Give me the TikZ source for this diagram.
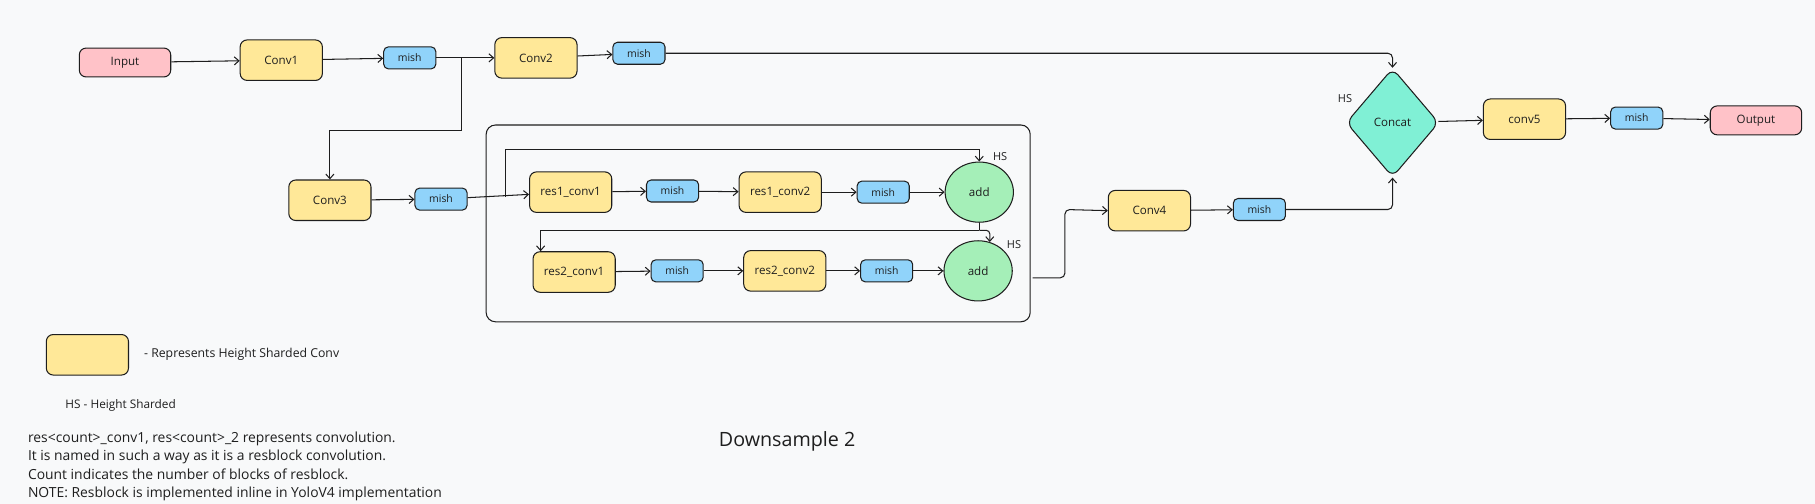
\documentclass[tikz,border=0pt]{standalone}
\usepackage{fontspec}
\setmainfont{Open Sans}
\usetikzlibrary{calc,arrows.meta,shapes.geometric}
\definecolor{ink}{HTML}{1E1E1E}
\definecolor{paper}{HTML}{F8F9FA}
\definecolor{convfill}{HTML}{FFE898}
\definecolor{mishfill}{HTML}{90D3FA}
\definecolor{iofill}{HTML}{FFC2C8}
\definecolor{addfill}{HTML}{A5EFB8}
\definecolor{catfill}{HTML}{80F0D5}
\tikzset{
	blockbox/.style={draw=ink, line width=0.9pt, rounded corners=6pt, inner sep=0pt, text=ink, font=\fontsize{10}{12}\selectfont},
	convbox/.style={blockbox, fill=convfill, minimum width=71pt, minimum height=35pt},
	mishbox/.style={blockbox, fill=mishfill, rounded corners=4pt, minimum width=45pt, minimum height=19pt, font=\fontsize{9}{11}\selectfont},
	iobox/.style={blockbox, fill=iofill, minimum width=79pt, minimum height=25pt},
	addop/.style={ellipse, draw=ink, line width=0.9pt, fill=addfill, minimum width=59pt, minimum height=52pt, inner sep=0pt, text=ink, font=\fontsize{10}{12}\selectfont},
	catop/.style={diamond, draw=ink, line width=0.9pt, fill=catfill, rounded corners=7pt, minimum width=80pt, minimum height=94pt, inner sep=0pt, text=ink, font=\fontsize{10}{12}\selectfont},
	wire/.style={draw=ink, line width=0.9pt, -{Straight Barb[length=4pt,width=7pt]}},
	hslabel/.style={text=ink, font=\fontsize{9.5}{11}\selectfont},
}

\begin{document}
\begin{tikzpicture}[x=1pt, y=-1pt]
		%%%%% START %%%%%
		\fill[paper] (0, 0) rectangle (1568, 435);
		\useasboundingbox (0, 0) rectangle (1568, 435);
		
		% resblock frame
		\node[draw=ink, line width=0.9pt, rounded corners=8pt, minimum width=470pt, minimum height=170pt, inner sep=0pt] (resblk) at (655, 193) {};
		
		% top row
		\node[iobox] (in) at (108, 54) {Input};
		\node[convbox] (conv1) at (243, 52) {Conv1};
		\node[mishbox] (mish1) at (354, 50) {mish};
		\node[convbox] (conv2) at (463, 50) {Conv2};
		\node[mishbox] (mish2) at (552, 46) {mish};
		
		% second row
		\node[convbox] (conv3) at (285, 173) {Conv3};
		\node[mishbox] (mish3) at (381, 172) {mish};
		\node[convbox] (r1c1) at (493, 166) {res1\_conv1};
		\node[mishbox] (mish4) at (581, 165) {mish};
		\node[convbox] (r1c2) at (674, 166) {res1\_conv2};
		\node[mishbox] (mish5) at (763, 166) {mish};
		\node[addop] (add1) at (846, 166) {add};
		\node[hslabel] at (864, 135) {HS};
		
		\node[convbox] (r2c1) at (496, 235) {res2\_conv1};
		\node[mishbox] (mish6) at (585, 234) {mish};
		\node[convbox] (r2c2) at (678, 234) {res2\_conv2};
		\node[mishbox] (mish7) at (766, 234) {mish};
		\node[addop] (add2) at (845, 234) {add};
		\node[hslabel] at (876, 211) {HS};
		
		\node[convbox] (conv4) at (993, 182) {Conv4};
		\node[mishbox] (mish8) at (1088, 181) {mish};
		
		% right side
		\node[catop] (cat) at (1203, 106) {Concat};
		\node[hslabel] at (1162, 85) {HS};
		\node[convbox] (conv5) at (1317, 103) {conv5};
		\node[mishbox] (mish9) at (1414, 102) {mish};
		\node[iobox] (out) at (1517, 104) {Output};
		
		% branch points
		\coordinate (b1) at (399, 50);
		\coordinate (b2) at (399, 113);
		\coordinate (s1) at (437, 170);
		\coordinate (s2) at (437, 129);
		\coordinate (j1) at (846, 199);
		\coordinate (o1) at (892, 240);
		\coordinate (o2) at (920, 181);
		
		% connectors
		\draw[wire] (in) -- (conv1);
		\draw[wire] (conv1) -- (mish1);
		\draw[wire] (mish1) -- (conv2);
		\draw[wire] (conv2) -- (mish2);
		\draw[wire, rounded corners=4pt] (mish2.east) -| (cat.north);
		\draw[wire] (b1) -- (b2) -| (conv3.north);
		
		\draw[wire] (conv3) -- (mish3);
		\draw[wire] (mish3) -- (r1c1);
		\draw[wire] (s1) -- (s2) -| (add1.north);
		\draw[wire] (r1c1) -- (mish4);
		\draw[wire] (mish4) -- (r1c2);
		\draw[wire] (r1c2) -- (mish5);
		\draw[wire] (mish5) -- (add1);
		
		\draw[line width=0.9pt, draw=ink] (add1.south) -- (j1);
		\draw[wire] (j1) -| ($(r2c1.north west)+(7, 0)$);
		\draw[wire, rounded corners=3pt] (j1) -| (add2.68);
		\draw[wire] (r2c1) -- (mish6);
		\draw[wire] (mish6) -- (r2c2);
		\draw[wire] (r2c2) -- (mish7);
		\draw[wire] (mish7) -- (add2);
		
		\draw[wire, rounded corners=4pt] (o1) -| (o2) -- (conv4.west);
		\draw[wire] (conv4) -- (mish8);
		\draw[wire, rounded corners=4pt] (mish8.east) -| (cat.south);
		\draw[wire] (cat) -- (conv5);
		\draw[wire] (conv5) -- (mish9);
		\draw[wire] (mish9) -- (out);
		
		% legend and notes
		\node[convbox] (legconv) at (75.5, 306.5) {};
		\node[anchor=west, text=ink, font=\fontsize{10.6}{12}\selectfont] (legtext) at (121, 306) {- Represents Height Sharded Conv};
		\node[anchor=west, text=ink, font=\fontsize{10.2}{12}\selectfont] (hsnote) at (53, 350) {HS - Height Sharded};
		\node[anchor=north west, align=left, inner sep=0pt, text=ink, font=\fontsize{12}{15.8}\selectfont] (notes) at (24, 373) {res<count>\_conv1, res<count>\_2 represents convolution.\\It is named in such a way as it is a resblock convolution.\\Count indicates the number of blocks of resblock.\\NOTE: Resblock is implemented inline in YoloV4 implementation};
		\node[text=ink, font=\fontsize{17}{20}\selectfont] (title) at (680, 381) {Downsample 2};
		%%%%% END %%%%%
\end{tikzpicture}
\end{document}
